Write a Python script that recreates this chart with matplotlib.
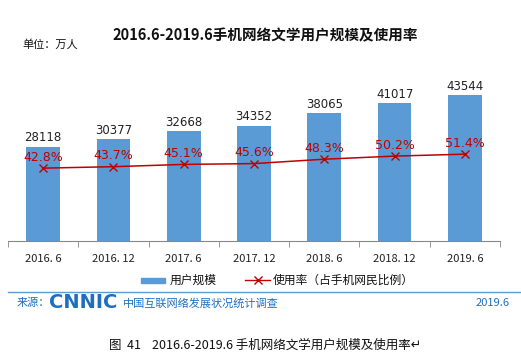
import matplotlib.pyplot as plt
import numpy as np

plt.rcParams['font.family'] = ['Noto Sans CJK SC', 'DejaVu Sans']

# Data
periods = ['2016. 6', '2016. 12', '2017. 6', '2017. 12', '2018. 6', '2018. 12', '2019. 6']
users = [28118, 30377, 32668, 34352, 38065, 41017, 43544]
rate = [42.8, 43.7, 45.1, 45.6, 48.3, 50.2, 51.4]

W, H = 521, 359
fig = plt.figure(figsize=(W / 100, H / 100), dpi=100)

# axes placement in pixels
left, right, top, bottom = 8, 500, 80, 241
ax = fig.add_axes([left / W, 1 - bottom / H, (right - left) / W, (bottom - top) / H])
x = np.arange(len(periods))
ax.bar(x, users, width=0.48, color='#5B9BD5', zorder=2)
ax.set_xlim(-0.5, len(periods) - 0.5)
ax.set_ylim(0, 48000)
for xi, v in zip(x, users):
    ax.text(xi, v + 700, str(v), ha='center', va='bottom', fontsize=8.5,
            family=['DejaVu Sans'], color='#222222')

for s in ['top', 'right', 'left']:
    ax.spines[s].set_visible(False)
ax.spines['bottom'].set_color('#888888')
ax.set_yticks([])
ax.set_xticks(np.arange(len(periods) + 1) - 0.5, minor=True)
ax.tick_params(axis='x', which='minor', length=4, color='#888888')
ax.set_xticks(x)
ax.set_xticklabels(periods, fontsize=8, color='#222222')
ax.tick_params(axis='x', which='major', length=0, pad=9)

ax2 = ax.twinx()
ax2.plot(x, rate, color='#C00000', marker='x', markersize=6, linewidth=1.1, zorder=3)
ax2.set_ylim(-2, 97)
ax2.axis('off')
for xi, r in zip(x, rate):
    ax2.text(xi, r + 2.8, f'{r}%', ha='center', va='bottom', fontsize=9,
             family=['DejaVu Sans'], color='#C00000')

# titles
fig.text(265 / W, 1 - 35 / H, '2016.6-2019.6手机网络文学用户规模及使用率', ha='center', va='center',
         fontsize=10.5, fontweight='bold', color='#111111')
fig.text(22 / W, 1 - 45 / H, '单位：万人', ha='left', va='center', fontsize=8, color='#111111')

# legend
fig.patches.append(plt.Rectangle((141 / W, 1 - 283 / H), 24 / W, 5 / H, color='#5B9BD5',
                                 transform=fig.transFigure))
fig.text(170 / W, 1 - 280 / H, '用户规模', ha='left', va='center', fontsize=8.5, color='#111111')
fig.add_artist(plt.Line2D([245 / W, 270 / W], [1 - 280 / H, 1 - 280 / H], color='#C00000',
                          linewidth=1, transform=fig.transFigure))
fig.add_artist(plt.Line2D([257.5 / W], [1 - 280 / H], color='#C00000', marker='x', markersize=6,
                          transform=fig.transFigure))
fig.text(273 / W, 1 - 280 / H, '使用率（占手机网民比例）', ha='left', va='center', fontsize=8.5,
         color='#111111')

# source bar
fig.add_artist(plt.Line2D([8 / W, 1], [1 - 292 / H, 1 - 292 / H], color='#5B9BD5',
                          linewidth=1, transform=fig.transFigure))
fig.text(17 / W, 1 - 303 / H, '来源：', ha='left', va='center', fontsize=8, color='#1F6FC0')
fig.text(49 / W, 1 - 303 / H, 'CNNIC', ha='left', va='center', fontsize=14, fontweight='bold',
         family=['DejaVu Sans'], color='#1F6FC0')
fig.text(123 / W, 1 - 303 / H, '中国互联网络发展状况统计调查', ha='left', va='center', fontsize=8,
         color='#1F6FC0')
fig.text(510 / W, 1 - 303 / H, '2019.6', ha='right', va='center', fontsize=8, color='#1F6FC0')

# caption
fig.text(265 / W, 1 - 345 / H, '图  41    2016.6-2019.6 手机网络文学用户规模及使用率↵', ha='center',
         va='center', fontsize=9, color='#111111')

fig.savefig('out.png', dpi=100)
